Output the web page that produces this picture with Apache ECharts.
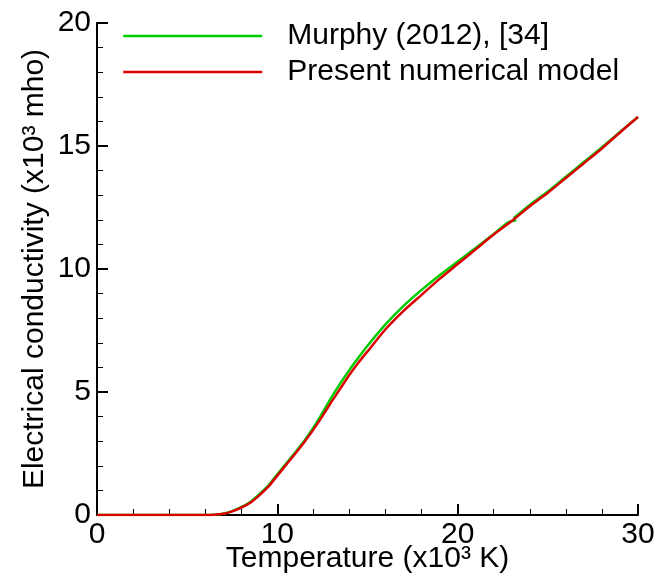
<!DOCTYPE html>
<html>
<head>
<meta charset="utf-8">
<script src="https://cdn.jsdelivr.net/npm/echarts@6/dist/echarts.min.js"></script>
<style>html,body{margin:0;padding:0;background:#fff}#c{width:667px;height:578px}</style>
</head>
<body>
<div id="c"></div>
<script>
// Present numerical model
var modelT = [0, 2, 4, 6, 6.5, 7, 7.5, 8, 8.5, 9, 9.5, 10, 10.5, 11, 11.5, 12, 12.5, 13, 13.5, 14, 14.5, 15, 16, 17, 18, 19, 20, 21, 22, 23, 24, 25, 26, 27, 28, 29, 30];
var modelS = [0, 0, 0, 0, 0.01, 0.05, 0.15, 0.3, 0.5, 0.8, 1.15, 1.6, 2.05, 2.5, 2.97, 3.47, 4.02, 4.6, 5.15, 5.7, 6.2, 6.65, 7.55, 8.3, 8.95, 9.6, 10.2, 10.8, 11.4, 11.95, 12.55, 13.1, 13.7, 14.3, 14.9, 15.55, 16.18];
// Murphy (2012), first segment
var murphyT1 = [0, 2, 4, 6, 6.5, 7, 7.5, 8, 8.5, 9, 9.5, 10, 10.5, 11, 11.5, 12, 12.5, 13, 13.5, 14, 14.5, 15, 16, 17, 18, 19, 20, 21, 22, 22.8, 23.25];
var murphyS1 = [0, 0, 0, 0, 0.01, 0.05, 0.16, 0.32, 0.53, 0.85, 1.2, 1.65, 2.1, 2.55, 3.02, 3.55, 4.15, 4.78, 5.36, 5.9, 6.4, 6.88, 7.75, 8.5, 9.15, 9.75, 10.3, 10.85, 11.42, 11.9, 11.98];
// Murphy (2012), second segment
var murphyT2 = [23.1, 24, 25, 26, 27, 28, 29, 30];
var murphyS2 = [12.06, 12.6, 13.15, 13.75, 14.35, 14.95, 15.57, 16.18];

var xTicks = [0, 10, 20, 30];
var yTicks = [0, 5, 10, 15, 20];

function pairs(a, b) { return a.map(function (v, i) { return [v, b[i]]; }); }

var FONT = 'Liberation Sans';
var GREEN = '#00cc00', RED = '#dd0000';
var chart = echarts.init(document.getElementById('c'), null, {renderer: 'canvas'});
chart.setOption({
  animation: false,
  backgroundColor: '#fff',
  grid: {left: 97, right: 29, top: 23, bottom: 63, containLabel: false, outerBoundsMode: 'none'},
  legend: {
    orient: 'vertical', left: 117, top: 16,
    itemWidth: 139, itemHeight: 30, itemGap: 6,
    data: ['Murphy (2012), [34]', 'Present numerical model'],
    itemStyle: {opacity: 0, borderWidth: 0},
    lineStyle: {width: 2.5},
    textStyle: {fontFamily: FONT, fontSize: 30, color: '#000', lineHeight: 30, padding: [0, 0, 0, 20]},
    selectedMode: false
  },
  xAxis: {
    type: 'value', min: 0, max: 30, interval: 10,
    name: 'Temperature (x10³ K)', nameLocation: 'middle', nameGap: 29, nameMoveOverlap: false,
    nameTextStyle: {fontFamily: FONT, fontSize: 30, color: '#000'},
    axisLine: {show: true, lineStyle: {color: '#000', width: 2}},
    axisTick: {show: true, inside: true, length: 11, lineStyle: {color: '#000', width: 2}},
    minorTick: {show: true, splitNumber: 5, length: 6, lineStyle: {color: '#000', width: 1}},
    axisLabel: {fontFamily: FONT, fontSize: 30, color: '#000', margin: 5,
      formatter: function (v) { return xTicks.indexOf(v) >= 0 ? String(v) : ''; }},
    splitLine: {show: false}
  },
  yAxis: {
    type: 'value', min: 0, max: 20, interval: 5,
    name: 'Electrical conductivity (x10³ mho)', nameLocation: 'middle', nameGap: 47, nameMoveOverlap: false,
    nameTextStyle: {fontFamily: FONT, fontSize: 30, color: '#000'},
    axisLine: {show: true, lineStyle: {color: '#000', width: 2}},
    axisTick: {show: true, inside: true, length: 11, lineStyle: {color: '#000', width: 2}},
    minorTick: {show: true, splitNumber: 5, length: 6, lineStyle: {color: '#000', width: 1}},
    axisLabel: {fontFamily: FONT, fontSize: 30, color: '#000', margin: 6,
      formatter: function (v) { return yTicks.indexOf(v) >= 0 ? String(v) : ''; }},
    splitLine: {show: false}
  },
  series: [
    {name: 'Murphy (2012), [34]', type: 'line', data: pairs(murphyT1, murphyS1), showSymbol: false, symbol: 'none',
      smooth: 0.2, lineStyle: {color: GREEN, width: 2.5}, itemStyle: {color: GREEN}, z: 2},
    {name: 'Murphy (2012), [34]', type: 'line', data: pairs(murphyT2, murphyS2), showSymbol: false, symbol: 'none',
      smooth: 0.2, lineStyle: {color: GREEN, width: 2.5}, itemStyle: {color: GREEN}, z: 2},
    {name: 'Present numerical model', type: 'line', data: pairs(modelT, modelS), showSymbol: false, symbol: 'none',
      smooth: 0.2, lineStyle: {color: RED, width: 2.5}, itemStyle: {color: RED}, z: 3}
  ]
});
</script>
</body>
</html>
